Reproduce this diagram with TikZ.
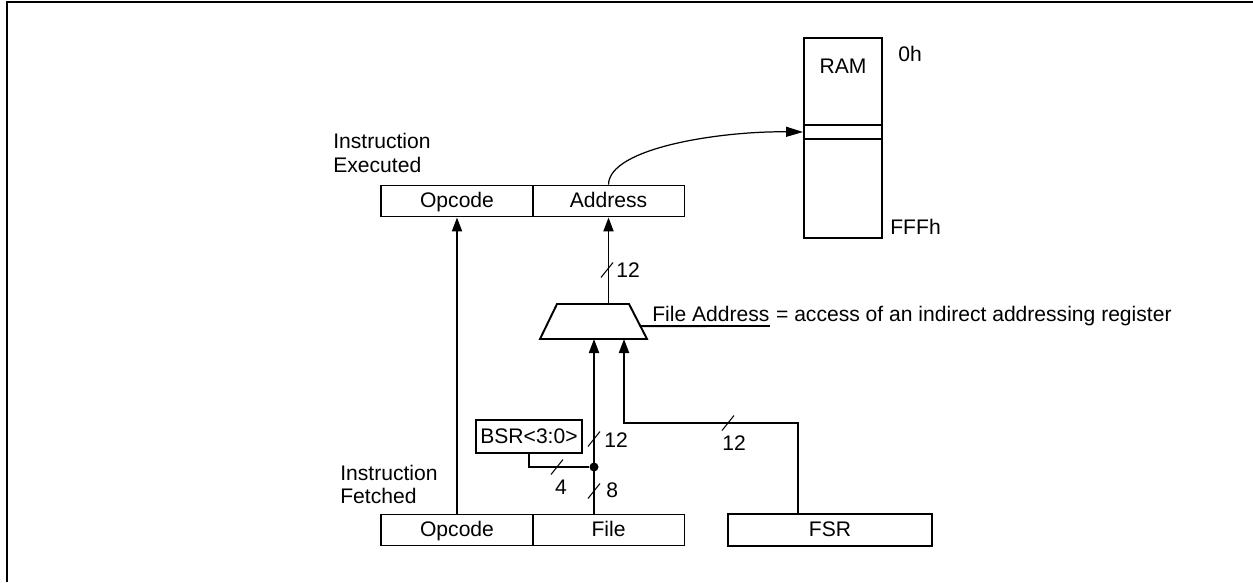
\documentclass[tikz,border=0pt]{standalone}
\usepackage{fontspec}
\setmainfont{Liberation Sans}
\usetikzlibrary{shapes.geometric, arrows.meta, positioning, calc}
\tikzset{
  field/.style  = {draw, line width=1.1pt, minimum width=3.04cm, minimum height=0.62cm,
                   inner sep=0pt, font=\regfont, text height=0.9em, text depth=0.15em},
  reg/.style    = {draw, line width=1.1pt, minimum height=0.64cm, inner sep=0pt, font=\regfont,
                   text height=0.9em, text depth=0.15em},
  lbl/.style    = {inner sep=0pt, font=\regfont},
  bus/.style    = {line width=1.1pt, -{Triangle[length=2.8mm, width=2mm]}},
  wire/.style   = {line width=1.1pt},
  slash/.style  = {line width=0.6pt},
  frame/.style  = {line width=1.3pt}
}
\newcommand{\regfont}{\fontsize{12}{13.5}\selectfont}
% bus width mark: a short stroke across the line
\newcommand{\buswidth}[1]{\draw[slash] (#1) ++(-6,7.5) -- ++(12,-15);}

\begin{document}
\begin{tikzpicture}[x=0.02cm, y=-0.02cm]
\useasboundingbox (0,0) rectangle (1253,582);
\draw[frame] (7,582) -- (7,2) -- (1253,2);

% instruction executed
\node[field] (exop)   at (457,201) {Opcode};
\node[field] (exaddr) at (608.5,201) {Address};
\node[lbl, anchor=west, align=left] (exlbl) at (333,153) {Instruction\\Executed};

% instruction fetched
\node[field] (feop)   at (457,530) {Opcode};
\node[field] (fefile) at (608.5,530) {File};
\node[lbl, anchor=west, align=left] (felbl) at (340,484.5) {Instruction\\Fetched};
\node[reg, minimum width=4.08cm] (fsr) at (830,530) {FSR};
\node[reg, minimum width=2.12cm, minimum height=0.66cm] (bsr) at (529,436.5) {BSR<3:0>};

% data memory
\node[draw, line width=1.1pt, minimum width=1.56cm, minimum height=4cm, inner sep=0pt] (ram) at (843,138) {};
\node[lbl] (ramlbl) at (843,66) {RAM};
\node[lbl, anchor=west] (ramtop) at (898,54) {0h};
\node[lbl, anchor=west] (rambot) at (890,227) {FFFh};
\draw[wire] (ram.west |- 0,125) -- (ram.east |- 0,125);
\draw[wire] (ram.west |- 0,139) -- (ram.east |- 0,139);
\coordinate (slot) at (ram.west |- 0,132);

% address select
\coordinate (seltl) at (557,304);
\coordinate (seltr) at (629,304);
\coordinate (selbr) at (647,339);
\coordinate (selbl) at (540,339);
\draw[wire, line join=miter] (seltl) -- (seltr) -- (selbr) -- (selbl) -- cycle;
\coordinate (selin1) at (594,339);
\coordinate (selin2) at (624,339);
\coordinate (fsrtap) at (798,423);
\node[circle, fill, inner sep=0pt, minimum size=0.18cm] (jn) at (selin1 |- 0,467) {};

\node[lbl, anchor=base west] (faname) at (652,321) {File Address};
\node[lbl, anchor=base west] (fatext) at (faname.base east) {\ = access of an indirect addressing register};
\draw[wire] ($(seltr)!0.63!(selbr)$) -- ($(faname.base east)+(0,5)$);

% connections
\draw[bus] (feop.north) -- (exop.south);
\draw[bus] (seltl -| exaddr.south) -- (exaddr.south);
\draw[bus] (jn |- fefile.north) -- (selin1);
\draw[wire] (bsr.south) |- (jn);
\draw[bus] (fsr.north -| fsrtap) |- (fsrtap) -| (selin2);
\draw[line width=0.7pt, -{Triangle[length=3.4mm, width=2mm]}]
  (exaddr.north) .. controls (609,148) and (720,131) .. (slot);

% bus widths
\buswidth{607,270}   \node[lbl, anchor=west] (w1) at (616,270) {12};
\buswidth{594,439}   \node[lbl, anchor=west] (w2) at (604,440) {12};
\buswidth{594,491}   \node[lbl, anchor=west] (w3) at (606,490) {8};
\buswidth{557,467}   \node[lbl] (w4) at (561,487) {4};
\buswidth{728,423}   \node[lbl] (w5) at (734,443) {12};
\end{tikzpicture}
\end{document}
